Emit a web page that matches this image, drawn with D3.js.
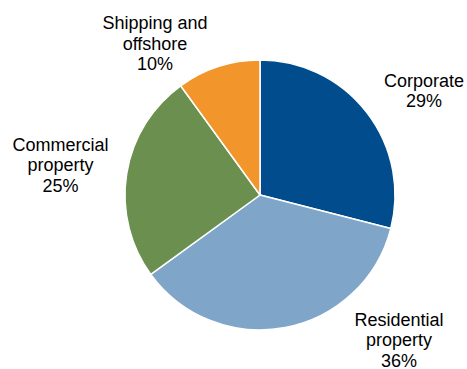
<!DOCTYPE html>
<html>
<head>
<meta charset="utf-8">
<script src="https://cdn.jsdelivr.net/npm/d3@7"></script>
<style>
  html, body { margin: 0; padding: 0; background: #fff; }
  svg { display: block; }
  text { font-family: "Liberation Sans", Arial, sans-serif; font-size: 18px; fill: #000; }
</style>
</head>
<body>
<svg id="chart" width="467" height="369"></svg>
<script>
// Loan book composition by segment (share in %)
const categories = ["Corporate", "Residential property", "Commercial property", "Shipping and offshore"];
const values = [29, 36, 25, 10];
const labelLines = [
  ["Corporate", "29%"],
  ["Residential", "property", "36%"],
  ["Commercial", "property", "25%"],
  ["Shipping and", "offshore", "10%"]
];
const colors = ["#004c8c", "#7fa6c8", "#6a8f4e", "#f2952a"];

// Layout
const width = 467, height = 369;
const cx = 260, cy = 195, radius = 135;
// Label block anchor: horizontal centre and first baseline, per slice
const labelAnchors = [
  { x: 424, y: 86.5 },
  { x: 399, y: 325.5 },
  { x: 60.5, y: 150.5 },
  { x: 155, y: 29 }
];
const lineH = 20.5;

const svg = d3.select("#chart");
const g = svg.append("g").attr("transform", `translate(${cx},${cy})`);

const pie = d3.pie().sort(null).value(d => d);
const arcs = pie(values);
const arc = d3.arc().innerRadius(0).outerRadius(radius);

g.selectAll("path.slice")
  .data(arcs)
  .join("path")
  .attr("class", "slice")
  .attr("d", arc)
  .attr("fill", (d, i) => colors[i])
  .attr("stroke", "#fff")
  .attr("stroke-width", 1.5)
  .attr("stroke-linejoin", "round");

svg.selectAll("text.label")
  .data(arcs)
  .join("text")
  .attr("class", "label")
  .attr("text-anchor", "middle")
  .each(function(d, i) {
    const a = labelAnchors[i];
    const t = d3.select(this);
    labelLines[i].forEach((s, k) => {
      t.append("tspan").attr("x", a.x).attr("y", a.y + k * lineH).text(s);
    });
  });
</script>
</body>
</html>
